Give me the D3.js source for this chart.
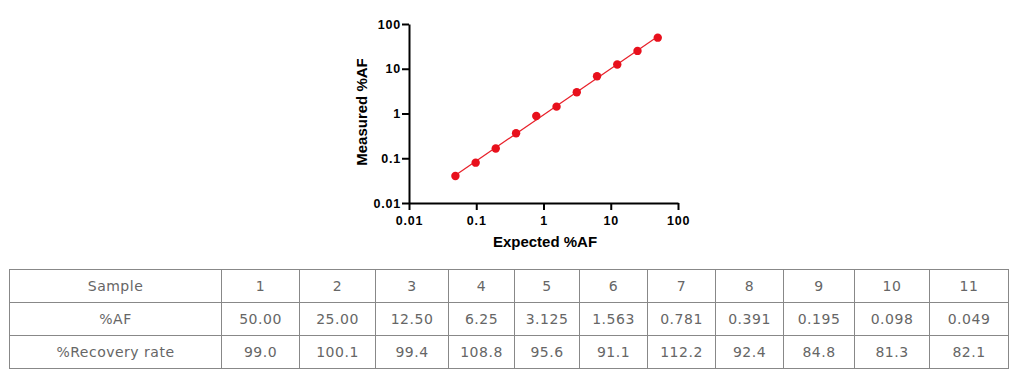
<!DOCTYPE html>
<html>
<head>
<meta charset="utf-8">
<script src="https://cdn.jsdelivr.net/npm/d3@7"></script>
<style>
  body { margin: 0; background: #fff; }
  #chart { position: absolute; left: 0; top: 0; }
  #tbl { position: absolute; left: 9px; top: 269px; border-collapse: collapse; table-layout: fixed;
         font-family: "DejaVu Sans", sans-serif; font-size: 14px; letter-spacing: 0.5px; color: #666; }
  #tbl td { border: 1px solid #888; text-align: center; height: 32px; padding: 0; }
</style>
</head>
<body>
<svg id="chart" width="1018" height="265"></svg>
<table id="tbl"></table>
<script>
var samples = ['1', '2', '3', '4', '5', '6', '7', '8', '9', '10', '11'];
var expectedAF = [50.00, 25.00, 12.50, 6.25, 3.125, 1.563, 0.781, 0.391, 0.195, 0.098, 0.049];
var expectedLabels = ['50.00', '25.00', '12.50', '6.25', '3.125', '1.563', '0.781', '0.391', '0.195', '0.098', '0.049'];
var recovery = ['99.0', '100.1', '99.4', '108.8', '95.6', '91.1', '112.2', '92.4', '84.8', '81.3', '82.1'];
var logTicks = [0.01, 0.1, 1, 10, 100];

// layout only
var colWidths = [212, 78, 76, 73, 66, 65, 68, 68, 68, 71, 75, 79];

(function(d3) {
  'use strict';

  var measured = expectedAF.map(function(e, i) { return e * (+recovery[i]) / 100; });

  var svg = d3.select('#chart');
  var x = d3.scaleLog().domain([0.01, 100]).range([409, 678]);
  var y = d3.scaleLog().domain([0.01, 100]).range([203, 24]);
  var fmt = function(d) { return String(d); };

  var gx = svg.append('g')
    .attr('transform', 'translate(0,203)')
    .call(d3.axisBottom(x).tickValues(logTicks).tickFormat(fmt).tickSize(7).tickSizeOuter(0));
  var gy = svg.append('g')
    .attr('transform', 'translate(409,0)')
    .call(d3.axisLeft(y).tickValues(logTicks).tickFormat(fmt).tickSize(7).tickSizeOuter(0));

  [gx, gy].forEach(function(g) {
    g.select('.domain').attr('stroke', '#000').attr('stroke-width', 2);
    g.selectAll('.tick line').attr('stroke', '#000').attr('stroke-width', 2);
    g.selectAll('.tick text')
      .attr('fill', '#000')
      .style('font-family', 'Arial, "Liberation Sans", sans-serif')
      .style('font-weight', 'bold')
      .style('font-size', '12.5px')
      .style('letter-spacing', '0.8px');
  });
  gx.selectAll('.tick text').attr('dy', '0.95em');
  gy.selectAll('.tick text').attr('x', -8);

  // fitted line on log-log
  var lx = expectedAF.map(Math.log10), ly = measured.map(Math.log10);
  var mx = d3.mean(lx), my = d3.mean(ly);
  var slope = d3.sum(lx, function(v, i) { return (v - mx) * (ly[i] - my); }) /
              d3.sum(lx, function(v) { return (v - mx) * (v - mx); });
  var icpt = my - slope * mx;
  var x0 = d3.min(expectedAF), x1 = d3.max(expectedAF);
  var fit = function(v) { return Math.pow(10, icpt + slope * Math.log10(v)); };

  svg.append('line')
    .attr('x1', x(x0)).attr('y1', y(fit(x0)))
    .attr('x2', x(x1)).attr('y2', y(fit(x1)))
    .attr('stroke', '#e8202a').attr('stroke-width', 1.2);

  svg.selectAll('circle.pt')
    .data(expectedAF)
    .enter()
    .append('circle')
    .attr('class', 'pt')
    .attr('cx', function(d) { return x(d); })
    .attr('cy', function(d, i) { return y(measured[i]); })
    .attr('r', 4.2)
    .attr('fill', '#e8101c');

  svg.append('text')
    .attr('x', 545).attr('y', 247)
    .attr('text-anchor', 'middle')
    .style('font-family', 'Arial, "Liberation Sans", sans-serif')
    .style('font-weight', 'bold').style('font-size', '15px')
    .text('Expected %AF');

  svg.append('text')
    .attr('transform', 'translate(367,112) rotate(-90)')
    .attr('text-anchor', 'middle')
    .style('font-family', 'Arial, "Liberation Sans", sans-serif')
    .style('font-weight', 'bold').style('font-size', '15px')
    .text('Measured %AF');

  var rows = [
    ['Sample'].concat(samples),
    ['%AF'].concat(expectedLabels),
    ['%Recovery rate'].concat(recovery)
  ];

  var tbl = d3.select('#tbl');
  tbl.append('colgroup').selectAll('col')
    .data(colWidths).enter().append('col')
    .style('width', function(d) { return d + 'px'; });
  tbl.selectAll('tr')
    .data(rows).enter().append('tr')
    .selectAll('td')
    .data(function(r) { return r; }).enter().append('td')
    .text(function(d) { return d; });
})(window.d3);
</script>
</body>
</html>
